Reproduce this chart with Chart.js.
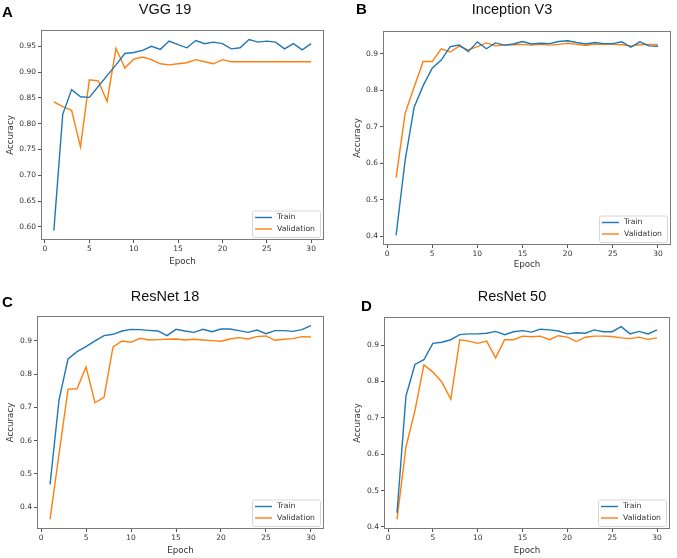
<!DOCTYPE html>
<html><head><meta charset="utf-8">
<script src="https://cdn.jsdelivr.net/npm/chart.js@4"></script>
<style>
body{margin:0;width:677px;height:558px;background:#fff;position:relative;overflow:hidden;}
canvas{position:absolute;}
.t{position:absolute;font-family:"Liberation Sans",Arial,sans-serif;font-size:14.5px;color:#111;white-space:nowrap;transform:translate(-50%,-50%);line-height:1;}
.l{position:absolute;font-family:"Liberation Sans",Arial,sans-serif;font-weight:bold;font-size:15px;color:#000;line-height:1;}
</style></head><body>
<canvas id="cA" width="338" height="270" style="left:0;top:0"></canvas>
<canvas id="cB" width="337" height="272" style="left:340px;top:0"></canvas>
<canvas id="cC" width="338" height="278" style="left:0;top:280px"></canvas>
<canvas id="cD" width="337" height="278" style="left:340px;top:280px"></canvas>
<div class="l" style="left:2px;top:4px">A</div>
<div class="l" style="left:356px;top:1px">B</div>
<div class="l" style="left:2px;top:294px">C</div>
<div class="l" style="left:361px;top:298px">D</div>
<div class="t" style="left:165px;top:8.5px">VGG 19</div>
<div class="t" style="left:512px;top:8.5px">Inception V3</div>
<div class="t" style="left:165px;top:295.5px">ResNet 18</div>
<div class="t" style="left:512px;top:295.5px">ResNet 50</div>
<script>
const epochs = [1,2,3,4,5,6,7,8,9,10,11,12,13,14,15,16,17,18,19,20,21,22,23,24,25,26,27,28,29,30];
const seriesNames = ["Train", "Validation"];
const xTicks = [0,5,10,15,20,25,30];

const vggTrain = [0.593,0.818,0.866,0.852,0.851,0.872,0.893,0.914,0.936,0.938,0.942,0.950,0.944,0.960,0.953,0.947,0.961,0.955,0.958,0.955,0.945,0.947,0.963,0.958,0.960,0.958,0.945,0.955,0.943,0.955];
const vggVal   = [0.842,0.833,0.826,0.755,0.885,0.883,0.843,0.946,0.908,0.925,0.929,0.924,0.916,0.914,0.916,0.918,0.924,0.920,0.916,0.924,0.920,0.920,0.920,0.920,0.920,0.920,0.920,0.920,0.920,0.920];
const vggYTicks = [0.60,0.65,0.70,0.75,0.80,0.85,0.90,0.95];

const incTrain = [0.403,0.608,0.754,0.813,0.861,0.883,0.920,0.924,0.906,0.933,0.914,0.930,0.924,0.927,0.934,0.927,0.929,0.928,0.934,0.936,0.931,0.927,0.931,0.928,0.928,0.933,0.918,0.933,0.922,0.921];
const incVal   = [0.561,0.737,0.809,0.879,0.879,0.914,0.905,0.921,0.911,0.920,0.930,0.922,0.924,0.925,0.926,0.924,0.926,0.924,0.926,0.929,0.926,0.923,0.927,0.926,0.926,0.925,0.922,0.925,0.926,0.925];
const incYTicks = [0.4,0.5,0.6,0.7,0.8,0.9];

const r18Train = [0.468,0.723,0.846,0.868,0.883,0.900,0.916,0.920,0.930,0.935,0.934,0.932,0.930,0.916,0.935,0.930,0.926,0.935,0.928,0.936,0.936,0.931,0.926,0.933,0.922,0.931,0.931,0.929,0.934,0.946];
const r18Val   = [0.363,0.560,0.755,0.756,0.822,0.714,0.730,0.882,0.900,0.896,0.908,0.903,0.904,0.905,0.906,0.903,0.905,0.903,0.901,0.899,0.906,0.910,0.906,0.913,0.915,0.902,0.905,0.907,0.913,0.912];
const r18YTicks = [0.4,0.5,0.6,0.7,0.8,0.9];

const r50Train = [0.439,0.760,0.847,0.860,0.905,0.908,0.915,0.929,0.931,0.931,0.933,0.938,0.929,0.937,0.940,0.936,0.944,0.942,0.939,0.931,0.934,0.933,0.942,0.937,0.937,0.951,0.931,0.938,0.931,0.942];
const r50Val   = [0.421,0.620,0.720,0.846,0.826,0.799,0.751,0.915,0.911,0.905,0.911,0.865,0.915,0.915,0.925,0.923,0.925,0.915,0.926,0.922,0.910,0.922,0.925,0.925,0.924,0.920,0.918,0.922,0.916,0.920];
const r50YTicks = [0.4,0.5,0.6,0.7,0.8,0.9];

const C_TRAIN = '#1f77b4', C_VAL = '#ff7f0e';
const tickFont = {family:'"DejaVu Sans", sans-serif', size:7.5};
const labelFont = {family:'"DejaVu Sans", sans-serif', size:8.7};

const framePlugin = {
  id:'frame',
  afterDatasetsDraw(chart){
    const {ctx, chartArea:a} = chart;
    ctx.save();
    ctx.strokeStyle = '#7a7a7a'; ctx.lineWidth = 1;
    ctx.strokeRect(Math.round(a.left)+0.5, Math.round(a.top)+0.5, Math.round(a.right-a.left)-1, Math.round(a.bottom-a.top)-1);
    const w = 68, h = 26.5;
    const x0 = a.right - 4 - w, y0 = a.bottom - 3 - h;
    ctx.fillStyle = 'rgba(255,255,255,0.85)';
    ctx.strokeStyle = '#d6d6d6';
    ctx.beginPath();
    if (ctx.roundRect) ctx.roundRect(x0+0.5, y0+0.5, w, h, 2); else ctx.rect(x0+0.5,y0+0.5,w,h);
    ctx.fill(); ctx.stroke();
    ctx.font = '7.7px "DejaVu Sans", sans-serif';
    ctx.textBaseline = 'middle';
    chart.data.datasets.forEach((ds, i) => {
      const yy = y0 + 7 + i*11.5;
      ctx.strokeStyle = ds.borderColor; ctx.lineWidth = 1.4;
      ctx.beginPath(); ctx.moveTo(x0+3, yy); ctx.lineTo(x0+20, yy); ctx.stroke();
      ctx.fillStyle = '#333';
      ctx.fillText(ds.label, x0+25, yy);
    });
    ctx.restore();
  }
};

function makeChart(id, train, val, yTicks, geo){
  const all = train.concat(val);
  const lo = Math.min(...all), hi = Math.max(...all), span = hi - lo;
  const mk = arr => epochs.map((e,i)=>({x:e, y:arr[i]}));
  return new Chart(document.getElementById(id), {
    type:'line',
    data:{datasets:[
      {label:seriesNames[0], data:mk(train), borderColor:C_TRAIN, borderWidth:1.4, pointRadius:0, tension:0, fill:false},
      {label:seriesNames[1], data:mk(val), borderColor:C_VAL, borderWidth:1.4, pointRadius:0, tension:0, fill:false}
    ]},
    options:{
      responsive:false, animation:false, events:[],
      layout:{padding:{left:0, right:geo.padR, top:geo.padT, bottom:0}},
      plugins:{legend:{display:false}, tooltip:{enabled:false}},
      scales:{
        x:{type:'linear', min:-0.45, max:31.45,
           afterBuildTicks(s){ s.ticks = xTicks.map(v=>({value:v})); },
           afterFit(s){ s.height = geo.xH; },
           ticks:{font:tickFont, color:'#333', padding:2, maxRotation:0},
           grid:{display:true, drawOnChartArea:false, drawTicks:true, tickLength:3, color:'#555'},
           border:{display:false},
           title:{display:true, text:'Epoch', font:labelFont, color:'#333', padding:{top:0,bottom:geo.xtPad}}},
        y:{type:'linear', min:lo-0.05*span, max:hi+0.05*span,
           afterBuildTicks(s){ s.ticks = yTicks.map(v=>({value:v})); },
           afterFit(s){ s.width = geo.yW; },
           ticks:{font:tickFont, color:'#333', padding:2, callback:(v)=>v.toFixed(geo.dec)},
           grid:{display:true, drawOnChartArea:false, drawTicks:true, tickLength:3, color:'#555'},
           border:{display:false},
           title:{display:true, text:'Accuracy', font:labelFont, color:'#333', padding:{top:geo.ytPad,bottom:0}}}
      }
    },
    plugins:[framePlugin]
  });
}

makeChart('cA', vggTrain, vggVal, vggYTicks, {padR:14, padT:30, xH:30, yW:41, xtPad:3.1, ytPad:5.1, dec:2});
makeChart('cB', incTrain, incVal, incYTicks, {padR:6, padT:31, xH:27, yW:43, xtPad:1.8, ytPad:12.1, dec:1});
makeChart('cC', r18Train, r18Val, r18YTicks, {padR:14, padT:36, xH:29, yW:37, xtPad:2.1, ytPad:5.5, dec:1});
makeChart('cD', r50Train, r50Val, r50YTicks, {padR:7, padT:37, xH:29, yW:44, xtPad:2.1, ytPad:12.1, dec:1});
</script>
</body></html>
